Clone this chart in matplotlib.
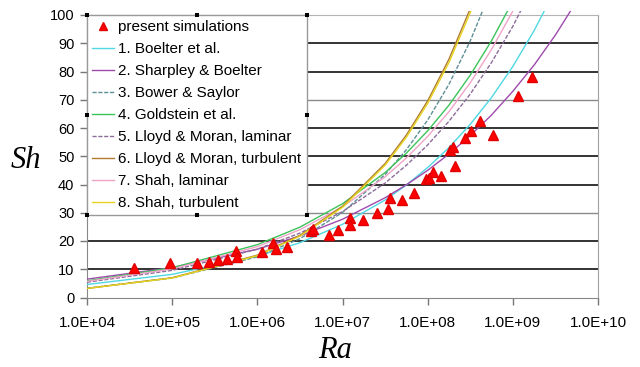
import matplotlib
matplotlib.use("Agg")
import matplotlib.pyplot as plt
from matplotlib.transforms import Bbox, TransformedBbox
from matplotlib.patches import Rectangle

# ---- data -------------------------------------------------------------
ra_sim = [3.57e4, 9.4e4, 1.95e5, 2.73e5, 3.49e5, 4.40e5, 5.64e5, 5.74e5,
          1.14e6, 1.51e6, 1.65e6, 2.22e6, 4.26e6, 4.56e6, 7.03e6, 8.97e6,
          1.22e7, 1.22e7, 1.74e7, 2.52e7, 3.41e7, 3.57e7, 4.99e7, 6.96e7,
          9.64e7, 1.03e8, 1.17e8, 1.43e8, 1.84e8, 1.96e8, 2.11e8, 2.71e8,
          3.25e8, 4.12e8, 5.85e8, 1.15e9, 1.69e9]
sh_sim = [10.5, 12.1, 12.1, 12.6, 13.2, 13.6, 16.5, 14.4,
          16.0, 19.4, 17.1, 18.0, 23.5, 24.1, 22.3, 23.9,
          28.0, 25.5, 27.5, 29.8, 31.3, 35.3, 34.6, 37.1,
          41.8, 42.4, 44.5, 42.9, 52.2, 53.2, 46.5, 56.4,
          58.9, 62.5, 57.5, 71.3, 78.2]

ra_grid = [1e4, 1e5, 1e6, 3.16e6, 1e7, 3.16e7, 5.62e7, 1e8, 1.78e8,
           3.16e8, 5.62e8, 1e9, 1.78e9, 3.16e9, 5.62e9]

sh_boelter = [4.6, 8.2, 14.6, 19.4, 25.9, 34.5, 39.8, 46.0, 53.1, 61.3,
              70.8, 81.8, 94.5, 109.1]
sh_sharpley = [6.5, 10.6, 17.1, 21.8, 27.7, 35.3, 39.9, 45.0, 50.8, 57.3,
               64.6, 73.0, 82.3, 92.9, 104.9]
sh_bower = [3.3, 6.9, 14.4, 20.8, 30.1, 43.5, 52.3, 62.8, 75.5, 90.8, 109.2]
sh_goldstein = [5.9, 10.5, 18.7, 24.9, 33.2, 44.2, 51.1, 59.0, 68.1, 78.7,
                90.9, 104.9]
sh_lloyd_lam = [5.4, 9.6, 17.1, 22.8, 30.4, 40.5, 46.8, 54.0, 62.4, 72.0,
                83.2, 96.0, 110.9]
sh_lloyd_turb = [3.2, 7.0, 15.0, 22.0, 32.3, 47.4, 57.5, 69.6, 84.4, 102.2]
sh_shah_lam = [5.7, 10.1, 18.0, 24.0, 32.1, 42.7, 49.4, 57.0, 65.8, 76.0,
               87.8, 101.4]
sh_shah_turb = [3.2, 6.9, 14.8, 21.7, 31.9, 46.8, 56.7, 68.7, 83.2, 100.8,
                122.2]

series_labels = ["1. Boelter et al.", "2. Sharpley & Boelter",
                 "3. Bower & Saylor", "4. Goldstein et al.",
                 "5. Lloyd & Moran, laminar", "6. Lloyd & Moran, turbulent",
                 "7. Shah, laminar", "8. Shah, turbulent"]
series_values = [sh_boelter, sh_sharpley, sh_bower, sh_goldstein,
                 sh_lloyd_lam, sh_lloyd_turb, sh_shah_lam, sh_shah_turb]

x_ticks = [1e4, 1e5, 1e6, 1e7, 1e8, 1e9, 1e10]
x_tick_labels = ["1.0E+04", "1.0E+05", "1.0E+06", "1.0E+07", "1.0E+08",
                 "1.0E+09", "1.0E+10"]
y_ticks = [0, 10, 20, 30, 40, 50, 60, 70, 80, 90, 100]

# ---- styling ----------------------------------------------------------
series_colors = ["#4fd8e2", "#a04aae", "#5e8e96", "#3cc35a",
                 "#8c6c9a", "#b07a30", "#f0a4c8", "#e6d41e"]
series_dashes = [None, None, (3, 1.2), None, (3, 1.2), None, None, None]

plt.rcParams["font.family"] = ["Liberation Sans", "DejaVu Sans"]

fig = plt.figure(figsize=(6.4, 3.67), dpi=100)
ax = fig.add_axes([87 / 640, 1 - 297.5 / 367, (598 - 87) / 640,
                   (297.5 - 15) / 367])
ax.set_xscale("log")
ax.set_xlim(1e4, 1e10)
ax.set_ylim(0, 100)

# horizontal gridlines
grid_colors = {10: "#111111", 20: "#111111", 30: "#8a8a8a", 40: "#111111",
               50: "#111111", 60: "#111111", 70: "#8a8a8a", 80: "#111111",
               90: "#111111"}
for yv, col in grid_colors.items():
    ax.axhline(yv, color=col, lw=1.2 if col == "#111111" else 1.0, zorder=1)

# allow curves to run a little past the top of the plot area
clip = TransformedBbox(Bbox([[0, 0], [1, 1.015]]), ax.transAxes)

handles = []
sim = ax.plot(ra_sim, sh_sim, linestyle="none", marker="^", ms=7.5,
              color="#ff0000", mec="#e00000", zorder=5,
              label="present simulations")[0]
handles.append(sim)
order = [0, 1, 2, 3, 4, 6, 5, 7]
lines = [None] * 8
for i in order:
    vals = series_values[i]
    ln, = ax.plot(ra_grid[:len(vals)], vals, color=series_colors[i], lw=1.0,
                  label=series_labels[i], zorder=3, clip_on=True)
    if series_dashes[i] is not None:
        ln.set_dashes(series_dashes[i])
    ln.set_clip_box(clip)
    lines[i] = ln
handles += lines

ax.set_xticks(x_ticks)
ax.set_xticklabels(x_tick_labels)
ax.minorticks_off()
ax.set_yticks(y_ticks)
ax.tick_params(axis="x", direction="out", length=5, width=1, color="#777777",
               labelsize=11, pad=8)
ax.tick_params(axis="y", direction="out", length=5, width=1, color="#777777",
               labelsize=10.5, pad=4)
for side in ["left", "bottom"]:
    ax.spines[side].set_color("#888888")
ax.spines["right"].set_color("#a0a0a0")
ax.spines["top"].set_color("#b4b4b4")

fig.text(335 / 640, 1 - 351 / 367, "Ra", family="Liberation Serif",
         style="italic", fontsize=22, ha="center", va="center")
fig.text(26 / 640, 1 - 160 / 367, "Sh", family="Liberation Serif",
         style="italic", fontsize=22, ha="center", va="center")

leg = ax.legend(handles=handles, loc="upper left", bbox_to_anchor=(0, 1),
                fontsize=11, frameon=True, fancybox=False, framealpha=1,
                edgecolor="#999999", borderpad=0.35, labelspacing=0.52,
                handlelength=1.4, handletextpad=0.3, borderaxespad=0,
                markerscale=0.7)
leg.get_frame().set_linewidth(1.0)
leg.set_zorder(10)

# small black handles on the legend frame
fig.canvas.draw()
bb = leg.get_window_extent()
W, H = fig.bbox.width, fig.bbox.height
xs = [bb.x0, (bb.x0 + bb.x1) / 2, bb.x1]
ys = [bb.y0, (bb.y0 + bb.y1) / 2, bb.y1]
s = 4
for xx in xs:
    for yy in ys:
        if xx == xs[1] and yy == ys[1]:
            continue
        fig.add_artist(Rectangle(((xx - s / 2) / W, (yy - s / 2) / H),
                                 s / W, s / H, transform=fig.transFigure,
                                 facecolor="black", edgecolor="none",
                                 zorder=20))

fig.savefig("out.png", dpi=100)
